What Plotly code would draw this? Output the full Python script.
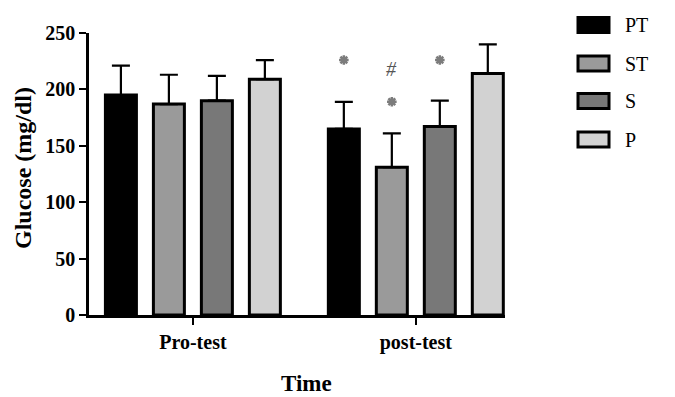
import plotly.graph_objects as go

categories = ["Pro-test", "post-test"]
groups = ["PT", "ST", "S", "P"]
means = {
    "PT": [195, 165],
    "ST": [187, 131],
    "S": [190, 167],
    "P": [209, 214],
}
errors = {
    "PT": [26, 24],
    "ST": [26, 30],
    "S": [22, 23],
    "P": [17, 26],
}
fills = {"PT": "#000000", "ST": "#9a9a9a", "S": "#787878", "P": "#d2d2d2"}

# significance marks: (category index, group, y value)
star_cat = [1, 1, 1]
star_group = ["PT", "ST", "S"]
star_y = [226, 189, 226]
hash_cat = [1]
hash_group = ["ST"]
hash_y = [218]

yticks = [0, 50, 100, 150, 200, 250]
x_title = "Time"
y_title = "Glucose (mg/dl)"

SERIF = "Liberation Serif"
BARGAP = 0.139
slot = (1 - BARGAP) / len(groups)
def bar_x(ci, g):
    i = groups.index(g)
    return ci - (1 - BARGAP) / 2 + slot * (i + 0.5)

# page offset (body margin) compensation
OX, OY = 8, 8
L, T = 89 - OX, 33 - OY
PW, PH = 416, 282

def px_x(px):
    return (px - 89) / PW
def px_y(py):
    return 1 - (py - 33) / PH

fig = go.Figure()
for g in groups:
    fig.add_trace(go.Bar(
        x=[0, 1], y=means[g], name=g,
        marker=dict(color=fills[g], line=dict(color="black", width=3)),
        error_y=dict(type="data", array=errors[g], arrayminus=[0, 0], symmetric=False,
                     color="black", thickness=2.2, width=9),
        showlegend=False,
    ))

fig.add_trace(go.Scatter(
    x=[bar_x(c, g) for c, g in zip(star_cat, star_group)], y=star_y,
    mode="markers",
    marker=dict(symbol="asterisk-open", size=8, color="#7c7c7c", line=dict(color="#7c7c7c", width=2.5)),
    showlegend=False, hoverinfo="skip",
))
for c, g, yv in zip(hash_cat, hash_group, hash_y):
    fig.add_annotation(x=bar_x(c, g), y=yv, text="<i>#</i>", showarrow=False,
                       font=dict(family=SERIF, size=20, color="#555555"))

# manual legend (pixel positions in the reference converted to paper coords)
leg_y = [25, 63.5, 101, 139.5]
for g, yc in zip(groups, leg_y):
    fig.add_shape(type="rect", xref="paper", yref="paper",
                  x0=px_x(578), x1=px_x(609), y0=px_y(yc + 7.5), y1=px_y(yc - 7.5),
                  fillcolor=fills[g], line=dict(color="black", width=3))
    fig.add_annotation(xref="paper", yref="paper", x=px_x(623), y=px_y(yc),
                       text=g, showarrow=False, xanchor="left", yanchor="middle",
                       font=dict(family=SERIF, size=20, color="black"))

# axis titles
fig.add_annotation(xref="paper", yref="paper", x=px_x(306), y=px_y(383),
                   text=x_title, showarrow=False, xanchor="center", yanchor="middle",
                   font=dict(family=SERIF, size=23, weight="bold", color="black"))
fig.add_annotation(xref="paper", yref="paper", x=px_x(23), y=px_y(168),
                   text=y_title, showarrow=False, xanchor="center", yanchor="middle",
                   textangle=-90,
                   font=dict(family=SERIF, size=24, weight="bold", color="black"))

fig.update_layout(
    width=675, height=397,
    margin=dict(l=L, r=675 - L - PW, t=T, b=397 - T - PH, autoexpand=False),
    paper_bgcolor="white", plot_bgcolor="white",
    barmode="group", bargap=BARGAP, bargroupgap=0.354,
    font=dict(family=SERIF, color="black"),
    xaxis=dict(
        range=[-0.466, 1.40], tickmode="array", tickvals=[0, 1], ticktext=categories,
        showline=True, linecolor="black", linewidth=2.5, showgrid=False, zeroline=False,
        ticks="outside", ticklen=7, tickwidth=2, tickcolor="black",
        tickfont=dict(family=SERIF, size=20, weight="bold"),
    ),
    yaxis=dict(
        range=[0, 250], tickmode="array", tickvals=yticks,
        showline=True, linecolor="black", linewidth=2.5, showgrid=False, zeroline=False,
        ticks="outside", ticklen=7, tickwidth=2, tickcolor="black",
        tickfont=dict(family=SERIF, size=20, weight="bold"),
    ),
)

fig.write_html("out.html")
